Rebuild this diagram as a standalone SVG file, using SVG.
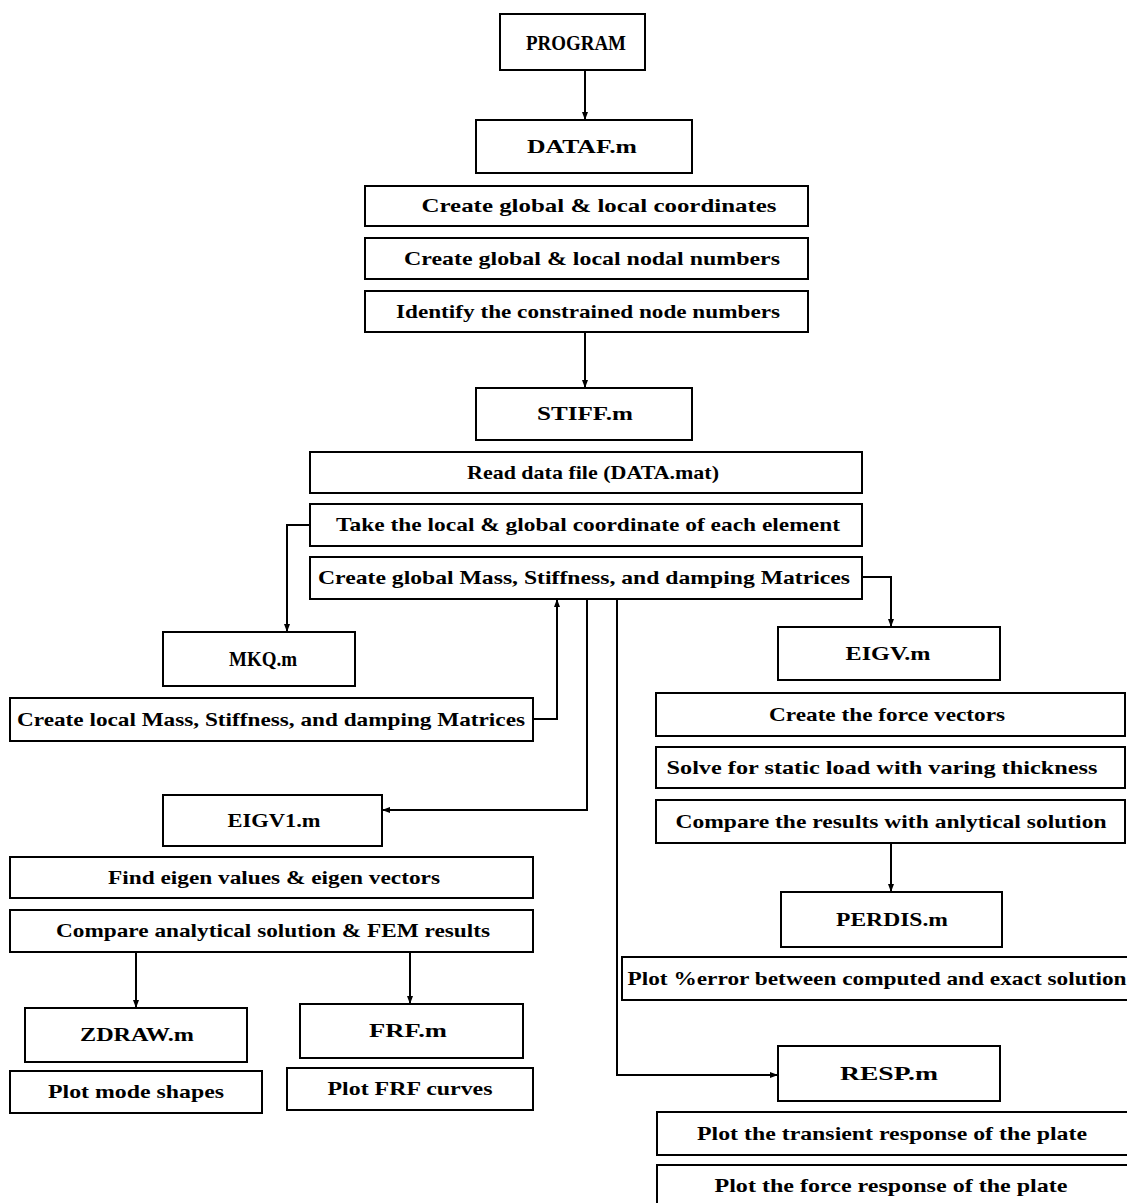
<svg xmlns="http://www.w3.org/2000/svg" width="1127" height="1203" viewBox="0 0 1127 1203">
<defs>
<style>
rect{fill:#fff;stroke:#000;stroke-width:2}
text{font-family:"Liberation Serif","Times New Roman",serif;font-weight:bold;font-size:19px;fill:#000;text-anchor:middle}
.c{fill:none;stroke:#000;stroke-width:2}
</style>
<marker id="a" markerWidth="8" markerHeight="8" refX="7" refY="4" orient="auto" markerUnits="userSpaceOnUse">
<path d="M0,1 L8,4 L0,7 Z" fill="#000"/>
</marker>
</defs>
<rect x="0" y="0" width="1127" height="1203" style="stroke:none"/>
<g id="connectors">
<path class="c" d="M585,70 V119" marker-end="url(#a)"/>
<path class="c" d="M585,332 V387" marker-end="url(#a)"/>
<path class="c" d="M310,525 H287 V631" marker-end="url(#a)"/>
<path class="c" d="M533,719 H557 V600" marker-end="url(#a)"/>
<path class="c" d="M862,577 H891 V626" marker-end="url(#a)"/>
<path class="c" d="M587,599 V810 H383" marker-end="url(#a)"/>
<path class="c" d="M617,599 V1075 H777" marker-end="url(#a)"/>
<path class="c" d="M891,843 V891" marker-end="url(#a)"/>
<path class="c" d="M136,952 V1007" marker-end="url(#a)"/>
<path class="c" d="M410,952 V1003" marker-end="url(#a)"/>
</g>
<g id="program"><rect x="500" y="14" width="145" height="56"/><text x="576" y="50" style="font-size:21px" textLength="100" lengthAdjust="spacingAndGlyphs">PROGRAM</text></g>
<g id="dataf"><rect x="476" y="120" width="216" height="53"/><text x="582" y="153" textLength="110" lengthAdjust="spacingAndGlyphs">DATAF.m</text></g>
<g id="coords"><rect x="365" y="186" width="443" height="40"/><text x="599" y="212" textLength="355" lengthAdjust="spacingAndGlyphs">Create global &amp; local coordinates</text></g>
<g id="nodal"><rect x="365" y="238" width="443" height="41"/><text x="592" y="265" textLength="376" lengthAdjust="spacingAndGlyphs">Create global &amp; local nodal numbers</text></g>
<g id="constrained"><rect x="365" y="291" width="443" height="41"/><text x="588" y="318" textLength="384" lengthAdjust="spacingAndGlyphs">Identify the constrained node numbers</text></g>
<g id="stiff"><rect x="476" y="388" width="216" height="52"/><text x="585" y="420" textLength="96" lengthAdjust="spacingAndGlyphs">STIFF.m</text></g>
<g id="readdata"><rect x="310" y="452" width="552" height="41"/><text x="593" y="479" textLength="252" lengthAdjust="spacingAndGlyphs">Read data file (DATA.mat)</text></g>
<g id="take"><rect x="310" y="504" width="552" height="42"/><text x="588" y="531" textLength="504" lengthAdjust="spacingAndGlyphs">Take the local &amp; global coordinate of each element</text></g>
<g id="globalmkq"><rect x="310" y="557" width="552" height="42"/><text x="584" y="584" textLength="532" lengthAdjust="spacingAndGlyphs">Create global Mass, Stiffness, and damping Matrices</text></g>
<g id="mkq"><rect x="163" y="632" width="192" height="54"/><text x="263" y="666" style="font-size:20px" textLength="68" lengthAdjust="spacingAndGlyphs">MKQ.m</text></g>
<g id="localmkq"><rect x="10" y="698" width="523" height="43"/><text x="271" y="726" textLength="508" lengthAdjust="spacingAndGlyphs">Create local Mass, Stiffness, and damping Matrices</text></g>
<g id="eigv"><rect x="778" y="627" width="222" height="53"/><text x="888" y="660" textLength="85" lengthAdjust="spacingAndGlyphs">EIGV.m</text></g>
<g id="force"><rect x="656" y="693" width="469" height="43"/><text x="887" y="721" textLength="236" lengthAdjust="spacingAndGlyphs">Create the force vectors</text></g>
<g id="solve"><rect x="656" y="747" width="469" height="41"/><text x="882" y="774" textLength="431" lengthAdjust="spacingAndGlyphs">Solve for static load with varing thickness</text></g>
<g id="compareres"><rect x="656" y="800" width="469" height="43"/><text x="891" y="828" textLength="431" lengthAdjust="spacingAndGlyphs">Compare the results with anlytical solution</text></g>
<g id="perdis"><rect x="781" y="892" width="221" height="55"/><text x="892" y="926" textLength="112" lengthAdjust="spacingAndGlyphs">PERDIS.m</text></g>
<g id="ploterr"><rect x="622" y="957" width="510" height="43"/><text x="877" y="985" textLength="499" lengthAdjust="spacingAndGlyphs">Plot %error between computed and exact solution</text></g>
<g id="eigv1"><rect x="163" y="795" width="219" height="51"/><text x="274" y="827" textLength="93" lengthAdjust="spacingAndGlyphs">EIGV1.m</text></g>
<g id="findeig"><rect x="10" y="857" width="523" height="41"/><text x="274" y="884" textLength="332" lengthAdjust="spacingAndGlyphs">Find eigen values &amp; eigen vectors</text></g>
<g id="comparean"><rect x="10" y="910" width="523" height="42"/><text x="273" y="937" textLength="434" lengthAdjust="spacingAndGlyphs">Compare analytical solution &amp; FEM results</text></g>
<g id="zdraw"><rect x="25" y="1008" width="222" height="54"/><text x="137" y="1041" textLength="114" lengthAdjust="spacingAndGlyphs">ZDRAW.m</text></g>
<g id="frf"><rect x="300" y="1004" width="223" height="54"/><text x="408" y="1037" textLength="78" lengthAdjust="spacingAndGlyphs">FRF.m</text></g>
<g id="modeshapes"><rect x="10" y="1071" width="252" height="42"/><text x="136" y="1098" textLength="176" lengthAdjust="spacingAndGlyphs">Plot mode shapes</text></g>
<g id="frfcurves"><rect x="287" y="1068" width="246" height="42"/><text x="410" y="1095" textLength="165" lengthAdjust="spacingAndGlyphs">Plot FRF curves</text></g>
<g id="resp"><rect x="778" y="1046" width="222" height="55"/><text x="889" y="1080" textLength="98" lengthAdjust="spacingAndGlyphs">RESP.m</text></g>
<g id="transient"><rect x="657" y="1112" width="472" height="43"/><text x="892" y="1140" textLength="390" lengthAdjust="spacingAndGlyphs">Plot the transient response of the plate</text></g>
<g id="forceresp"><rect x="657" y="1165" width="472" height="42"/><text x="891" y="1192" textLength="353" lengthAdjust="spacingAndGlyphs">Plot the force response of the plate</text></g>
</svg>
